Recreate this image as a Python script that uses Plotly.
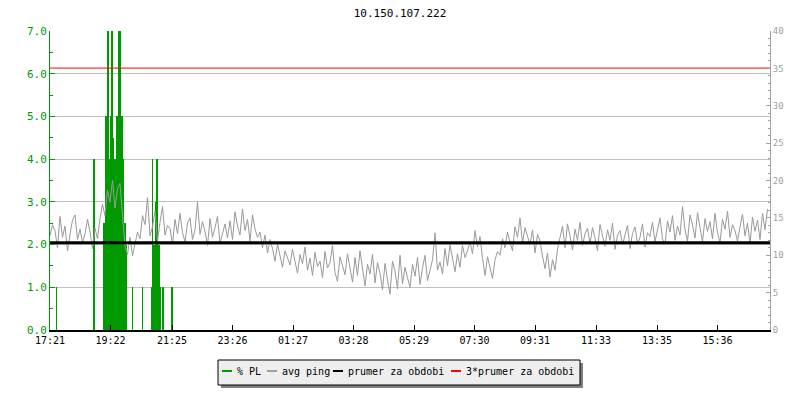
import plotly.graph_objects as go

# x axis is minutes since 17:21 (24 h window)
tick_minutes = [0, 121, 244, 365, 486, 607, 728, 849, 970, 1092, 1214, 1335]
tick_labels = ["17:21", "19:22", "21:25", "23:26", "01:27", "03:28",
               "05:29", "07:30", "09:31", "11:33", "13:35", "15:36"]

# packet loss samples (minute, % PL)
pl_minutes = [13, 88,
              108, 110, 112, 114, 116, 118, 120, 122, 124, 126, 128, 130,
              132, 134, 136, 138, 140, 142, 144, 146, 148, 150, 152,
              165, 185, 203, 205, 208, 211, 214, 217, 219, 221, 226, 244]
pl_values = [1.0, 4.0,
             2.5, 2.5, 5.0, 5.0, 7.0, 4.0, 4.0, 5.0, 7.0, 4.5, 4.0, 4.0,
             4.0, 5.0, 5.0, 7.0, 7.0, 5.0, 5.0, 4.0, 2.5, 2.5, 2.0,
             1.0, 1.0, 1.0, 4.0, 2.0, 3.0, 4.0, 2.0, 2.0, 1.0, 1.0, 1.0]

# avg ping in ms, one value per 5 minutes (one row = one hour)
ping_ms = [
    12.6, 14.1, 13.3, 11.0, 15.2, 12.4, 13.9, 10.6, 12.8, 14.7, 15.4, 12.1,
    13.5, 11.7, 12.9, 14.8, 13.1, 10.9, 13.6, 12.2, 14.9, 16.8, 15.3, 18.7,
    17.1, 20.0, 16.3, 18.9, 19.6, 15.4, 11.2, 10.1, 12.4, 9.9, 11.6, 13.1,
    12.2, 15.3, 14.1, 17.7, 12.6, 13.8, 15.9, 11.9, 14.4, 16.5, 12.7, 14.0,
    13.6, 11.5, 14.8, 12.9, 15.6, 13.0, 11.8, 14.3, 15.0, 12.1, 13.4, 17.1,
    12.8, 14.5, 13.2, 11.3, 14.9, 12.4, 13.7, 15.2, 11.6, 13.0, 14.2, 12.3,
    14.6, 12.1, 15.8, 13.9, 12.7, 16.2, 13.3, 14.8, 11.9, 15.4, 13.5, 12.4,
    13.1, 11.0, 12.7, 10.3, 12.1, 10.9, 9.2, 11.5, 9.9, 8.4, 10.6, 9.5,
    8.7, 10.8, 9.3, 7.6, 10.1, 8.9, 11.1, 8.0, 9.6, 7.3, 10.4, 8.5,
    9.2, 7.0, 10.5, 8.3, 9.0, 11.3, 7.7, 6.5, 9.8, 8.6, 7.4, 10.2,
    8.1, 6.4, 9.7, 7.3, 10.6, 8.2, 5.9, 8.8, 7.5, 10.1, 6.3, 9.0,
    7.6, 5.4, 8.9, 6.7, 4.8, 9.2, 7.9, 5.5, 10.0, 6.2, 8.4, 7.0,
    5.7, 8.8, 7.2, 9.7, 6.1, 8.3, 10.0, 6.6, 7.9, 9.4, 13.0, 8.0,
    9.1, 7.5, 10.9, 8.6, 11.4, 9.3, 7.8, 10.2, 8.4, 11.3, 9.7, 10.6,
    11.8, 10.2, 13.3, 11.1, 12.5, 9.6, 7.3, 9.8, 8.2, 6.9, 9.4, 10.5,
    10.0, 12.2, 11.0, 13.1, 11.7, 10.6, 13.8, 12.4, 15.0, 11.6, 13.7, 12.6,
    11.4, 13.4, 10.3, 12.8, 11.9, 9.9, 8.2, 10.3, 7.1, 9.4, 8.0, 10.8,
    12.4, 13.9, 11.0, 14.2, 12.6, 10.7, 13.5, 12.0, 14.4, 11.3, 12.9, 13.6,
    11.5, 13.7, 12.3, 10.6, 14.1, 12.8, 11.2, 13.4, 12.0, 14.3, 10.8, 12.7,
    13.3, 11.4, 12.6, 14.0, 10.9, 12.9, 13.8, 11.6, 12.4, 14.2, 11.1, 13.0,
    12.5, 14.4, 11.8, 13.2, 15.0, 12.2, 11.5, 14.6, 13.1, 15.3, 12.0, 13.9,
    12.7, 16.5, 13.4, 11.9, 15.4, 14.0, 12.3, 15.7, 13.6, 11.8, 14.9, 13.2,
    14.5, 12.2, 15.6, 13.0, 11.7, 14.8, 13.5, 15.9, 12.4, 14.1, 13.3, 11.9,
    13.8, 15.5, 12.6, 14.3, 11.6, 15.1, 13.2, 14.7, 12.1, 15.6, 13.4, 16.2,
]
ping_minutes = [i * 5 for i in range(len(ping_ms))]

prumer = 11.68          # average for the period (ms)
prumer3 = 3 * prumer
period = [0, 1440]

legend_names = ["% PL", "avg ping", "prumer za obdobi", "3*prumer za obdobi"]

GREEN = "#009900"
GRAY = "#999999"
RED = "#ff0000"
FONT = "DejaVu Sans Mono"

# plot area in pixels: x 50..770, y 31..330
def px_x(p):
    return (p - 50) / 720


def px_y(p):
    return (330 - p) / 299


fig = go.Figure()

fig.add_trace(go.Bar(
    x=pl_minutes, y=pl_values, width=2, marker=dict(color=GREEN, line=dict(width=0)),
    name=legend_names[0],
))
fig.add_trace(go.Scatter(
    x=ping_minutes, y=ping_ms, yaxis="y2", mode="lines",
    line=dict(color=GRAY, width=1), name=legend_names[1],
))
fig.add_trace(go.Scatter(
    x=period, y=[prumer, prumer], yaxis="y2", mode="lines",
    line=dict(color="#000000", width=3), name=legend_names[2],
))
fig.add_trace(go.Scatter(
    x=period, y=[prumer3, prumer3], yaxis="y2", mode="lines",
    line=dict(color=RED, width=1), name=legend_names[3],
))

# legend drawn by hand: shadow, box, short line swatches and labels
shapes = [
    dict(type="rect", xref="paper", yref="paper",
         x0=px_x(221), x1=px_x(583), y0=px_y(363), y1=px_y(388),
         fillcolor="#808080", line=dict(width=0), layer="below"),
    dict(type="rect", xref="paper", yref="paper",
         x0=px_x(218), x1=px_x(580), y0=px_y(360), y1=px_y(385),
         fillcolor="#eeeeee", line=dict(color="#000000", width=1), layer="above"),
]
annotations = []
swatch_colors = [GREEN, "#a0a0a0", "#000000", RED]
swatch_x = [222, 267, 333, 451]
for name, col, sx in zip(legend_names, swatch_colors, swatch_x):
    shapes.append(dict(type="line", xref="paper", yref="paper",
                       x0=px_x(sx), x1=px_x(sx + 10), y0=px_y(371), y1=px_y(371),
                       line=dict(color=col, width=2)))
    annotations.append(dict(text=name, xref="paper", yref="paper",
                            x=px_x(sx + 13), y=px_y(371), xanchor="left", yanchor="middle",
                            showarrow=False, font=dict(family=FONT, size=10, color="#000000")))

fig.update_layout(
    width=800, height=400,
    margin=dict(l=50, r=30, t=31, b=70, autoexpand=False),
    paper_bgcolor="white", plot_bgcolor="white",
    font=dict(family=FONT, size=10, color="#000000"),
    title=dict(text="10.150.107.222", x=0.5, xanchor="center", y=1 - 13 / 400,
               yref="container", yanchor="middle",
               font=dict(family=FONT, size=11, color="#000000")),
    showlegend=False,
    bargap=0,
    shapes=shapes,
    annotations=annotations,
    xaxis=dict(
        range=period, tickvals=tick_minutes, ticktext=tick_labels,
        ticks="inside", ticklen=5, tickcolor="#000000",
        showline=True, linecolor="#000000", linewidth=2,
        showgrid=False, zeroline=False, tickfont=dict(size=10, color="#000000"),
    ),
    yaxis=dict(
        range=[0, 7], dtick=1, tickformat=".1f",
        ticks="inside", ticklen=5, tickcolor=GREEN,
        minor=dict(dtick=0.5, ticks="inside", ticklen=3, tickcolor=GREEN, showgrid=False),
        showline=True, linecolor=GREEN, linewidth=1,
        showgrid=True, gridcolor="#c0c0c0", gridwidth=1,
        zeroline=False, tickfont=dict(size=11, color=GREEN),
    ),
    yaxis2=dict(
        range=[0, 40], dtick=5, overlaying="y", side="right",
        ticks="inside", ticklen=4, tickcolor="#a0a0a0",
        minor=dict(dtick=1, ticks="inside", ticklen=2, tickcolor="#a0a0a0", showgrid=False),
        showline=True, linecolor="#a0a0a0", linewidth=1,
        showgrid=False, zeroline=False, tickfont=dict(size=9, color="#a0a0a0"),
    ),
)

# the page body has a default 8px margin; drop it so the chart sits at 0,0
fig.write_html("out.html", config={"displayModeBar": False},
               post_script="document.body.style.margin = '0';")
